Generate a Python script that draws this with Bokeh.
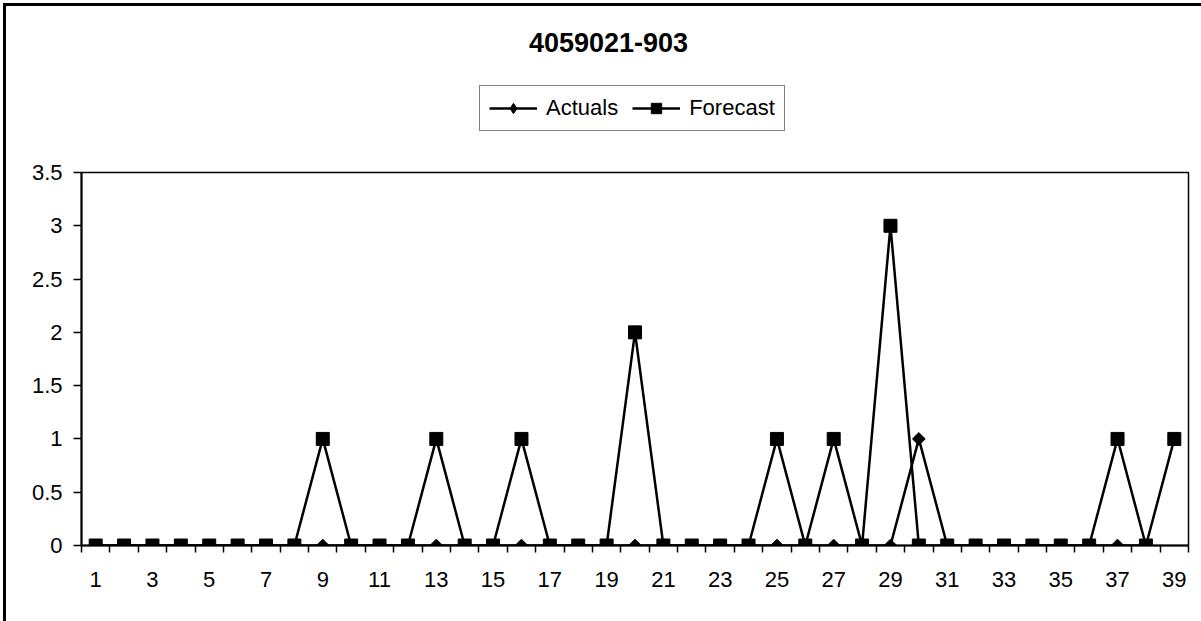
import numpy as np
from bokeh.plotting import figure
from bokeh.layouts import column
from bokeh.models import (Range1d, FixedTicker, Legend, LegendItem, Label,
                          CustomJSTickFormatter)
from bokeh.embed import file_html
from bokeh.resources import INLINE

title_text = "4059021-903"
periods = list(range(1, 40))
actuals = [0, 0, 0, 0, 0, 0, 0, 0, 0, 0,
           0, 0, 0, 0, 0, 0, 0, 0, 0, 0,
           0, 0, 0, 0, 0, 0, 0, 0, 0, 1,
           0, 0, 0, 0, 0, 0, 0, 0]
forecast = [0, 0, 0, 0, 0, 0, 0, 0, 1, 0,
            0, 0, 1, 0, 0, 1, 0, 0, 0, 2,
            0, 0, 0, 0, 1, 0, 1, 0, 3, 0,
            0, 0, 0, 0, 0, 0, 1, 0, 1]
x_tick_labels = [str(i) for i in range(1, 40, 2)]
y_ticks = [0, 0.5, 1, 1.5, 2, 2.5, 3, 3.5]

FONT = "Liberation Sans"
W = 1195
TOP_H = 150
BOT_H = 465
ML, MR = 75, 13
LW = 2.5

# ---------- header figure: title + legend ----------
top = figure(width=W, height=TOP_H, output_backend="svg", toolbar_location=None,
             x_range=Range1d(ML, W - MR), y_range=Range1d(0, TOP_H),
             x_axis_type=None, y_axis_type=None,
             min_border_left=ML, min_border_right=MR,
             min_border_top=0, min_border_bottom=0)
top.outline_line_color = None
top.xgrid.visible = False
top.ygrid.visible = False
top.background_fill_color = "white"
top.border_fill_color = "white"

nan = [float("nan")]
ka_line = top.line(nan, nan, line_color="black", line_width=LW)
ka_mark = top.scatter(nan, nan, marker="diamond", size=15,
                      fill_color="black", line_color="black")
kf_line = top.line(nan, nan, line_color="black", line_width=LW)
kf_mark = top.scatter(nan, nan, marker="square", size=13,
                      fill_color="black", line_color="black")

legend = Legend(items=[LegendItem(label="Actuals", renderers=[ka_line, ka_mark]),
                       LegendItem(label="Forecast", renderers=[kf_line, kf_mark])],
                orientation="horizontal", location=(398, 25),
                label_text_font=FONT, label_text_font_size="22px",
                label_text_color="black",
                glyph_width=48, glyph_height=26, label_standoff=9,
                spacing=14, padding=9, margin=0,
                border_line_color="black", border_line_width=1.5,
                background_fill_color="white", background_fill_alpha=1)
top.add_layout(legend, "center")

title = Label(x=602, y=TOP_H - 36, text=title_text,
              text_font=FONT, text_font_style="bold", text_font_size="27px",
              text_align="center", text_baseline="middle", text_color="black")
top.add_layout(title)

# ---------- chart ----------
p = figure(width=W, height=BOT_H, output_backend="svg", toolbar_location=None,
           x_range=Range1d(0.5, 39.5), y_range=Range1d(0, 3.5),
           min_border_left=ML, min_border_right=MR, min_border_top=16,
           min_border_bottom=76)
p.background_fill_color = "white"
p.border_fill_color = "white"
p.outline_line_color = "black"
p.outline_line_width = 1.5
p.xgrid.visible = False
p.ygrid.visible = False

p.xaxis.ticker = FixedTicker(ticks=[int(t) for t in x_tick_labels],
                             minor_ticks=[i + 0.5 for i in range(0, 40)])
p.xaxis.major_tick_out = 0
p.xaxis.major_tick_in = 0
p.xaxis.minor_tick_out = 7
p.xaxis.minor_tick_in = 0
p.xaxis.minor_tick_line_color = "black"
p.xaxis.minor_tick_line_width = 1.5
p.xaxis.major_label_standoff = 19
p.yaxis.ticker = FixedTicker(ticks=y_ticks)
p.yaxis.major_tick_out = 8
p.yaxis.major_tick_in = 0
p.yaxis.minor_tick_out = 0
p.yaxis.minor_tick_in = 0
p.yaxis.major_label_standoff = 11
p.yaxis.formatter = CustomJSTickFormatter(code="return String(tick);")
for ax in (p.xaxis, p.yaxis):
    ax.axis_line_color = "black"
    ax.axis_line_width = 2
    ax.major_tick_line_color = "black"
    ax.major_tick_line_width = 1.5
    ax.major_label_text_font = FONT
    ax.major_label_text_font_size = "22px"
    ax.major_label_text_color = "black"

p.line(periods[:len(actuals)], actuals, line_color="black", line_width=LW)
p.scatter(periods[:len(actuals)], actuals, marker="square", angle=np.pi / 4,
          size=9, fill_color="black", line_color="black")
p.line(periods, forecast, line_color="black", line_width=LW)
p.scatter(periods, forecast, marker="square", size=13,
          fill_color="black", line_color="black")

root = column(top, p, spacing=0, margin=(3, 0, 0, 3),
              styles={"border-left": "3px solid black",
                      "border-top": "3px solid black"})

open("out.html", "w").write(file_html(root, INLINE))
